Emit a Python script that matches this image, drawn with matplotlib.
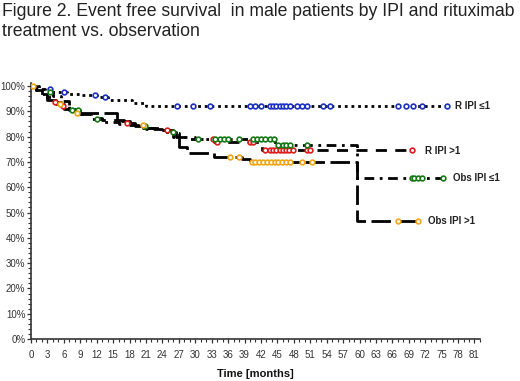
import matplotlib
matplotlib.use("Agg")
import matplotlib.pyplot as plt
from matplotlib.ticker import MultipleLocator, PercentFormatter
import numpy as np

plt.rcParams['font.family'] = ['Liberation Sans', 'DejaVu Sans']

# Kaplan-Meier step data (time in months, survival fraction)
r_le1_t = [0, 1.5, 3.8, 6.5, 9, 12, 14, 18.5, 21, 75.9]
r_le1_s = [1.0, 0.99, 0.976, 0.97, 0.963, 0.957, 0.945, 0.932, 0.92, 0.92]
r_le1_cens = [3.5, 6, 11.7, 13.5, 26.6, 29.6, 32.7, 40, 41, 42, 43.6, 44.2, 44.8,
              45.4, 46, 46.6, 47.3, 48.5, 49.5, 50.4, 53.3, 54.6, 67, 68.5, 69.7,
              71.4, 75.9]

r_gt1_t = [0, 1, 2, 3, 4, 5.5, 7, 9, 11, 13, 17, 19, 21, 23, 25.5, 27, 30, 33.5, 42.2, 69.5]
r_gt1_s = [1, 0.985, 0.97, 0.955, 0.935, 0.92, 0.905, 0.89, 0.875, 0.865, 0.855,
           0.845, 0.835, 0.825, 0.815, 0.80, 0.79, 0.779, 0.748, 0.748]
r_gt1_cens = [4.4, 5.9, 17.5, 24.8, 33.2, 34, 40, 40.5, 42.7, 43.6, 44.2, 44.8, 45.4,
              46, 46.6, 47.2, 47.8, 50.4, 51, 69.5]

obs_le1_t = [0, 1, 2.5, 4, 5.5, 7, 9, 11, 13, 16, 19, 21, 24, 26.5, 29, 44.5, 59.5, 75.2]
obs_le1_s = [1, 0.99, 0.975, 0.96, 0.94, 0.905, 0.89, 0.87, 0.858, 0.85, 0.84, 0.83,
             0.82, 0.80, 0.792, 0.767, 0.636, 0.636]
obs_le1_cens = [3.5, 7.5, 8.5, 12, 20.8, 26, 30.5, 33.6, 34.5, 35.3, 36, 38, 40.5,
                41.3, 42, 42.8, 43.6, 44.4, 45.2, 46, 46.6, 47.3, 50.5, 69.5, 70,
                70.6, 71.4, 75.2]

obs_gt1_t = [0, 1, 2, 3, 4.5, 6, 8, 15.7, 18, 20.5, 24, 26, 27, 28.5, 33.5, 38.5, 40, 59.5, 70.6]
obs_gt1_s = [1, 0.985, 0.965, 0.945, 0.93, 0.91, 0.893, 0.86, 0.845, 0.834, 0.825,
             0.80, 0.76, 0.735, 0.72, 0.71, 0.70, 0.466, 0.466]
obs_gt1_cens = [0.4, 5.3, 8.4, 20.4, 36.3, 38, 40.3, 41, 41.7, 42.4, 43.1, 43.8,
                44.5, 45.2, 45.9, 46.6, 47.3, 49.5, 51.3, 67, 70.6]

labels = ["R IPI ≤1", "R IPI >1", "Obs IPI ≤1", "Obs IPI >1"]
label_pos = [(77.5, 0.92), (72.0, 0.745), (77.0, 0.636), (72.5, 0.468)]


def surv_at(times, t_steps, s_steps):
    idx = np.searchsorted(t_steps, times, side="right") - 1
    return np.array(s_steps)[idx]


fig = plt.figure(figsize=(5.2, 3.81), dpi=100)
ax = fig.add_axes([0.0596, 0.110, 0.8634, 0.671])

curves = [
    (r_le1_t, r_le1_s, r_le1_cens, "#1c2fc4", (0, (1, 1.4))),
    (r_gt1_t, r_gt1_s, r_gt1_cens, "#e01b1b", (0, (4, 3))),
    (obs_le1_t, obs_le1_s, obs_le1_cens, "#157a15", (0, (3.5, 2, 1, 2))),
    (obs_gt1_t, obs_gt1_s, obs_gt1_cens, "#f2a516", (0, (7, 2))),
]

for t, s, cens, col, ls in curves:
    ax.step(t, s, where="post", color="black", lw=2.0, linestyle=ls,
            solid_capstyle="butt", dash_capstyle="butt", zorder=2)
    ax.plot(cens, surv_at(cens, t, s), "o", ms=3.4, mfc="white", mec=col,
            mew=1.2, zorder=3)

for lab, (x, y) in zip(labels, label_pos):
    ax.text(x, y, lab, fontsize=7, fontweight="bold", color="#222222",
            va="center", ha="left", clip_on=False)

ax.set_xlim(0, 82)
ax.set_ylim(0, 1.01)
ax.xaxis.set_major_locator(MultipleLocator(3))
ax.xaxis.set_minor_locator(MultipleLocator(1))
ax.yaxis.set_major_locator(MultipleLocator(0.1))
ax.yaxis.set_minor_locator(MultipleLocator(0.02))
ax.yaxis.set_major_formatter(PercentFormatter(1.0, decimals=0))

for side in ["top", "right"]:
    ax.spines[side].set_visible(False)
for side in ["left", "bottom"]:
    ax.spines[side].set_linewidth(1.2)
    ax.spines[side].set_color("#333333")

ax.tick_params(which="major", length=3, width=0.9, labelsize=7,
               labelcolor="#333333", color="#333333", pad=5)
ax.tick_params(which="minor", length=2, width=0.8, color="#333333")
ax.tick_params(axis="y", pad=1)

ax.set_xlabel("Time [months]", fontsize=8, fontweight="bold", color="#111111",
              labelpad=6)

fig.text(0.004, 0.992, "Figure 2. Event free survival  in male patients by IPI and rituximab\n"
         "treatment vs. observation", fontsize=12.7, va="top", ha="left",
         color="#222222", linespacing=1.2)

fig.savefig("out.png", dpi=100)
